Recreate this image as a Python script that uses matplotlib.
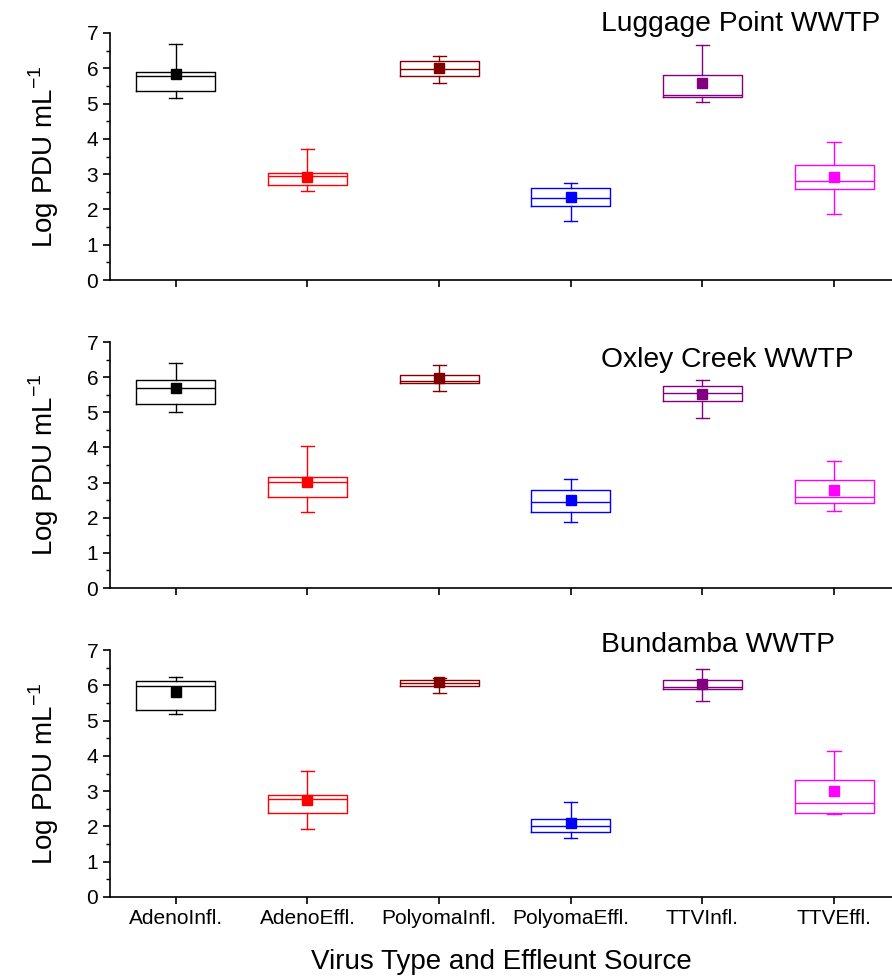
import matplotlib
matplotlib.use("Agg")
import matplotlib.pyplot as plt
import numpy as np

plt.rcParams['font.family'] = ['Liberation Sans', 'DejaVu Sans']

# カテゴリと色
categories = ['AdenoInfl.', 'AdenoEffl.', 'PolyomaInfl.', 'PolyomaEffl.', 'TTVInfl.', 'TTVEffl.']
colors = ['#000000', '#FF0000', '#800000', '#0000FF', '#800080', '#FF00FF']

sites = ['Luggage Point WWTP', 'Oxley Creek WWTP', 'Bundamba WWTP']

# Luggage Point
lp_whishi = [6.69, 3.72, 6.36, 2.76, 6.65, 3.90]
lp_q3 = [5.90, 3.02, 6.21, 2.62, 5.80, 3.25]
lp_med = [5.79, 2.94, 5.98, 2.33, 5.23, 2.80]
lp_q1 = [5.35, 2.68, 5.77, 2.09, 5.18, 2.57]
lp_whislo = [5.15, 2.51, 5.59, 1.68, 5.04, 1.88]
lp_mean = [5.84, 2.93, 6.02, 2.36, 5.57, 2.92]

# Oxley Creek
ox_whishi = [6.41, 4.03, 6.35, 3.10, 5.93, 3.61]
ox_q3 = [5.93, 3.15, 6.07, 2.80, 5.75, 3.07]
ox_med = [5.68, 3.01, 5.90, 2.45, 5.55, 2.58]
ox_q1 = [5.23, 2.59, 5.83, 2.16, 5.33, 2.43]
ox_whislo = [5.01, 2.16, 5.60, 1.87, 4.84, 2.19]
ox_mean = [5.69, 3.03, 5.98, 2.50, 5.51, 2.78]

# Bundamba
bu_whishi = [6.23, 3.56, 6.22, 2.68, 6.47, 4.14]
bu_q3 = [6.13, 2.90, 6.14, 2.22, 6.16, 3.31]
bu_med = [5.99, 2.78, 6.06, 2.02, 5.95, 2.67]
bu_q1 = [5.31, 2.37, 5.99, 1.83, 5.89, 2.37]
bu_whislo = [5.20, 1.92, 5.78, 1.67, 5.56, 2.35]
bu_mean = [5.82, 2.75, 6.09, 2.09, 6.04, 3.00]

site_data = [
    (lp_whislo, lp_q1, lp_med, lp_q3, lp_whishi, lp_mean),
    (ox_whislo, ox_q1, ox_med, ox_q3, ox_whishi, ox_mean),
    (bu_whislo, bu_q1, bu_med, bu_q3, bu_whishi, bu_mean),
]

# 軸の配置 (figure fraction)
W, H = 892, 977
panel_px = [(33, 280), (342, 588), (650, 897)]
title_y = [7.06, 6.29, 6.95]

fig = plt.figure(figsize=(W / 100, H / 100), dpi=100)

for k, (top, bot) in enumerate(panel_px):
    ax = fig.add_axes([110 / W, 1 - bot / H, (W - 110) / W, (bot - top) / H])
    whislo, q1, med, q3, whishi, mean = site_data[k]
    for i in range(len(categories)):
        stats = [dict(whislo=whislo[i], q1=q1[i], med=med[i], q3=q3[i],
                      whishi=whishi[i], mean=mean[i])]
        c = colors[i]
        ax.bxp(stats, positions=[i + 1], widths=0.6, capwidths=0.1,
               showmeans=True, showfliers=False, manage_ticks=False,
               boxprops=dict(color=c, linewidth=1.0),
               medianprops=dict(color=c, linewidth=1.0),
               whiskerprops=dict(color=c, linewidth=1.0),
               capprops=dict(color=c, linewidth=1.0),
               meanprops=dict(marker='s', markerfacecolor=c,
                              markeredgecolor=c, markersize=6.5))

    ax.set_xlim(0.5, 6.44)
    ax.set_ylim(0, 7)
    ax.set_xticks(range(1, len(categories) + 1))
    ax.set_yticks(range(0, 8))
    ax.set_yticks(np.arange(0.5, 7, 1), minor=True)
    ax.spines['top'].set_visible(False)
    ax.spines['right'].set_visible(False)
    for s in ['left', 'bottom']:
        ax.spines[s].set_linewidth(1.2)
    ax.tick_params(axis='both', which='major', direction='out', length=5,
                   width=1.2, labelsize=15)
    ax.tick_params(axis='y', which='minor', direction='out', length=3, width=1.0)
    ax.set_ylabel('Log PDU mL$^{\\mathregular{-1}}$', fontsize=20, labelpad=18)
    if k == 2:
        ax.set_xticklabels(categories)
        ax.set_xlabel('Virus Type and Effleunt Source', fontsize=20, labelpad=15)
    else:
        ax.set_xticklabels([])
    ax.text(4.23, title_y[k], sites[k], fontsize=20.3, ha='left', va='baseline',
            clip_on=False)

fig.savefig('out.png', dpi=100)
